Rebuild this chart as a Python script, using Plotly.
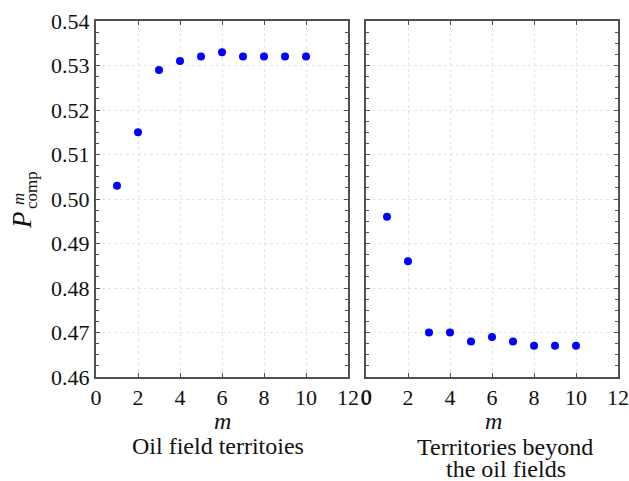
import plotly.graph_objects as go
from plotly.subplots import make_subplots

m_values = [1, 2, 3, 4, 5, 6, 7, 8, 9, 10]
oil_field = [0.503, 0.515, 0.529, 0.531, 0.532, 0.533, 0.532, 0.532, 0.532, 0.532]
beyond_fields = [0.496, 0.486, 0.470, 0.470, 0.468, 0.469, 0.468, 0.467, 0.467, 0.467]
x_ticks = [0, 2, 4, 6, 8, 10, 12]
y_ticks = [0.46, 0.47, 0.48, 0.49, 0.50, 0.51, 0.52, 0.53, 0.54]
y_tick_labels = ["0.46", "0.47", "0.48", "0.49", "0.50", "0.51", "0.52", "0.53", "0.54"]
panel_title_left = "Oil field territoies"
panel_title_right = ["Territories beyond", "the oil fields"]

W, H = 629, 481
L, R, T, B = 96, 618, 21, 377     # plot area in pixels
PW, PH = R - L, B - T

def px(x):
    return (x - L) / PW

def py(y):
    return (B - y) / PH

fig = make_subplots(rows=1, cols=2, horizontal_spacing=18 / PW)

marker = dict(color="#0000FF", size=8, symbol="circle")
fig.add_trace(go.Scatter(x=m_values, y=oil_field, mode="markers", marker=marker,
                         showlegend=False), row=1, col=1)
fig.add_trace(go.Scatter(x=m_values, y=beyond_fields, mode="markers", marker=marker,
                         showlegend=False), row=1, col=2)

font = "Liberation Serif, Times New Roman, serif"
tick_font = dict(family=font, size=22, color="#111111")
axis_common = dict(
    showline=True, linecolor="#505050", linewidth=2, mirror="ticks",
    ticks="inside", ticklen=4, tickcolor="#505050", tickwidth=1,
    showgrid=True, gridcolor="#e2e2e2", griddash="dot", gridwidth=1,
    zeroline=False, automargin=False,
    tickfont=tick_font,
)

for c in (1, 2):
    fig.update_xaxes(range=[0, 12], tickvals=x_ticks, ticktext=[str(v) for v in x_ticks],
                     row=1, col=c, **axis_common)
    fig.update_yaxes(range=[0.46, 0.54], tickvals=y_ticks, ticktext=y_tick_labels,
                     showticklabels=(c == 1),
                     minor=dict(ticks="inside", ticklen=3, tickcolor="#505050",
                                dtick=0.0025, showgrid=False),
                     row=1, col=c, **axis_common)

fig.update_layout(
    width=W, height=H,
    margin=dict(l=L, r=W - R, t=T, b=H - B, autoexpand=False),
    paper_bgcolor="white", plot_bgcolor="white",
    font=dict(family=font, color="#111111"),
)

ann = []
# the right panel's first tick label (plotly hides it next to the left panel's "12")
ann.append(dict(x=x_ticks[0], xref="x2", y=py(397), yref="paper", text=str(x_ticks[0]),
                showarrow=False, font=tick_font, xanchor="center", yanchor="middle"))
# x-axis titles "m"
for cx in (222, 493):
    ann.append(dict(x=px(cx), y=py(421), xref="paper", yref="paper",
                    text="<i>m</i>", showarrow=False, font=dict(family=font, size=24),
                    xanchor="center", yanchor="middle"))
ann.append(dict(x=px(218), y=py(446), xref="paper", yref="paper", text=panel_title_left,
                showarrow=False, font=dict(family=font, size=24),
                xanchor="center", yanchor="middle"))
ann.append(dict(x=px(505), y=py(447), xref="paper", yref="paper", text=panel_title_right[0],
                showarrow=False, font=dict(family=font, size=24),
                xanchor="center", yanchor="middle"))
ann.append(dict(x=px(506), y=py(469), xref="paper", yref="paper", text=panel_title_right[1],
                showarrow=False, font=dict(family=font, size=24),
                xanchor="center", yanchor="middle"))
# y-axis label P^m_comp (rotated)
ann.append(dict(x=px(22), y=py(220), xref="paper", yref="paper", text="<i>P</i>",
                showarrow=False, textangle=-90, font=dict(family=font, size=27),
                xanchor="center", yanchor="middle"))
ann.append(dict(x=px(18), y=py(199), xref="paper", yref="paper", text="<i>m</i>",
                showarrow=False, textangle=-90, font=dict(family=font, size=17),
                xanchor="center", yanchor="middle"))
ann.append(dict(x=px(31), y=py(190), xref="paper", yref="paper", text="comp",
                showarrow=False, textangle=-90, font=dict(family=font, size=17),
                xanchor="center", yanchor="middle"))
fig.update_layout(annotations=ann)

fig.write_html(
    "out.html",
    config={"displayModeBar": False},
    post_script="document.body.style.margin='0px';"
                "document.documentElement.style.overflow='hidden';",
)
